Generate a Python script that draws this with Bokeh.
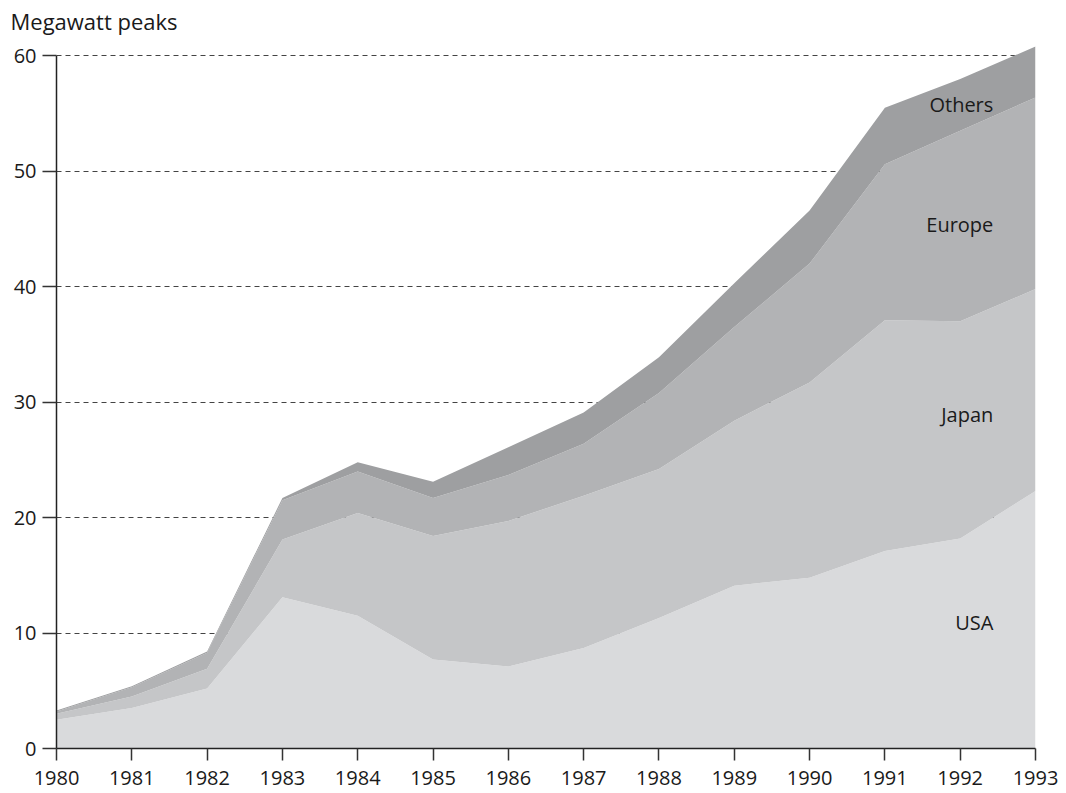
from bokeh.plotting import figure
from bokeh.models import ColumnDataSource, Range1d, FixedTicker, Label
from bokeh.embed import file_html
from bokeh.resources import INLINE

years = [1980, 1981, 1982, 1983, 1984, 1985, 1986, 1987, 1988, 1989, 1990, 1991, 1992, 1993]
usa = [2.5, 3.5, 5.2, 13.1, 11.5, 7.7, 7.1, 8.7, 11.3, 14.1, 14.8, 17.1, 18.2, 22.3]
japan = [0.5, 1.0, 1.7, 5.0, 8.9, 10.7, 12.6, 13.2, 12.9, 14.3, 16.9, 20.0, 18.8, 17.5]
europe = [0.2, 0.8, 1.4, 3.4, 3.6, 3.3, 4.0, 4.5, 6.6, 8.1, 10.3, 13.5, 16.5, 16.6]
others = [0.1, 0.1, 0.1, 0.2, 0.8, 1.4, 2.4, 2.7, 3.1, 3.8, 4.6, 4.9, 4.5, 4.4]

series = ["USA", "Japan", "Europe", "Others"]
colors = ["#d9dadc", "#c5c6c8", "#b2b3b5", "#9e9fa1"]
y_ticks = [0, 10, 20, 30, 40, 50, 60]
x_ticks = years

FONT = "Open Sans"
FS = "20px"

source = ColumnDataSource(dict(year=years, USA=usa, Japan=japan, Europe=europe, Others=others))

p = figure(width=1063, height=792, output_backend="svg", toolbar_location=None,
           x_range=Range1d(1980, 1993), y_range=Range1d(0, 61.5),
           min_border_left=56, min_border_right=28, min_border_bottom=44, min_border_top=38)
p.outline_line_color = None
p.background_fill_color = "white"

p.title.text = "Megawatt peaks"
p.title.align = "left"
p.title.offset = -46
p.title.standoff = 6
p.title.text_font = FONT
p.title.text_font_size = "22px"
p.title.text_font_style = "normal"
p.title.text_color = "#1a1a1a"

p.varea_stack(stackers=series, x="year", color=colors, source=source)

# axes
for ax in (p.xaxis[0], p.yaxis[0]):
    ax.axis_line_color = "#222222"
    ax.axis_line_width = 1.5
    ax.major_tick_line_color = "#333333"
    ax.major_tick_line_width = 1.5
    ax.minor_tick_line_color = None
    ax.major_tick_in = 0
    ax.major_label_text_font = FONT
    ax.major_label_text_font_size = FS
    ax.major_label_text_color = "#1a1a1a"

p.xaxis.ticker = FixedTicker(ticks=x_ticks)
p.yaxis.ticker = FixedTicker(ticks=y_ticks)
p.xaxis.bounds = (1980, 1993)
p.yaxis.bounds = (0, 60)
p.xaxis.major_tick_out = 12
p.xaxis.major_label_standoff = 10
p.yaxis.major_tick_out = 14
p.yaxis.major_label_standoff = 6

p.xgrid.visible = False
p.ygrid.ticker = FixedTicker(ticks=y_ticks[1:])
p.ygrid.grid_line_color = "#444444"
p.ygrid.grid_line_width = 1
p.ygrid.grid_line_dash = "5 4"

# series labels
label_y = [10.9, 28.9, 45.4, 55.8]
for name, ly in zip(series, label_y):
    p.add_layout(Label(x=1992.44, y=ly, text=name, text_align="right", text_baseline="middle",
                       text_font=FONT, text_font_size=FS, text_color="#1a1a1a"))

open("out.html", "w").write(file_html(p, INLINE))
